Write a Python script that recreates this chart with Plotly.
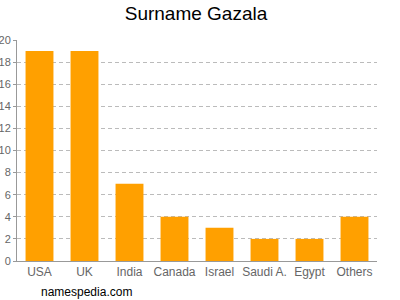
import plotly.graph_objects as go

categories = ["USA", "UK", "India", "Canada", "Israel", "Saudi A.", "Egypt", "Others"]
values = [19, 19, 7, 4, 3, 2, 2, 4]
y_ticks = list(range(0, 21, 2))

fig = go.Figure(go.Bar(x=categories, y=values, marker_color="#FFA000",
                       marker_line_width=0, width=0.62))
fig.update_layout(
    width=400, height=300,
    margin=dict(l=17, r=23, t=40, b=39),
    plot_bgcolor="white", paper_bgcolor="white",
    font=dict(family="Liberation Sans, Arial, sans-serif", color="#666666", size=11),
    title=dict(text="Surname Gazala", x=0.49, xanchor="center", y=0.957, yanchor="middle",
               font=dict(size=19, color="#000000")),
    showlegend=False,
)
fig.update_xaxes(showline=True, linecolor="#999999", linewidth=1, ticks="", range=[-0.5, 7.5],
                 automargin=False, tickfont=dict(size=12))
fig.update_yaxes(range=[0, 20], tickvals=y_ticks, showgrid=True, gridcolor="#bbbbbb",
                 griddash="4px,3px", showline=True, linecolor="#999999", ticks="outside",
                 ticklen=3, tickcolor="#999999", zeroline=False, automargin=False,
                 ticklabelstandoff=0)
fig.add_annotation(text="namespedia.com", xref="paper", yref="paper", x=0.06, y=-0.14,
                   xanchor="left", yanchor="middle", showarrow=False,
                   font=dict(size=12, color="#000000"))
fig.write_html("out.html")
